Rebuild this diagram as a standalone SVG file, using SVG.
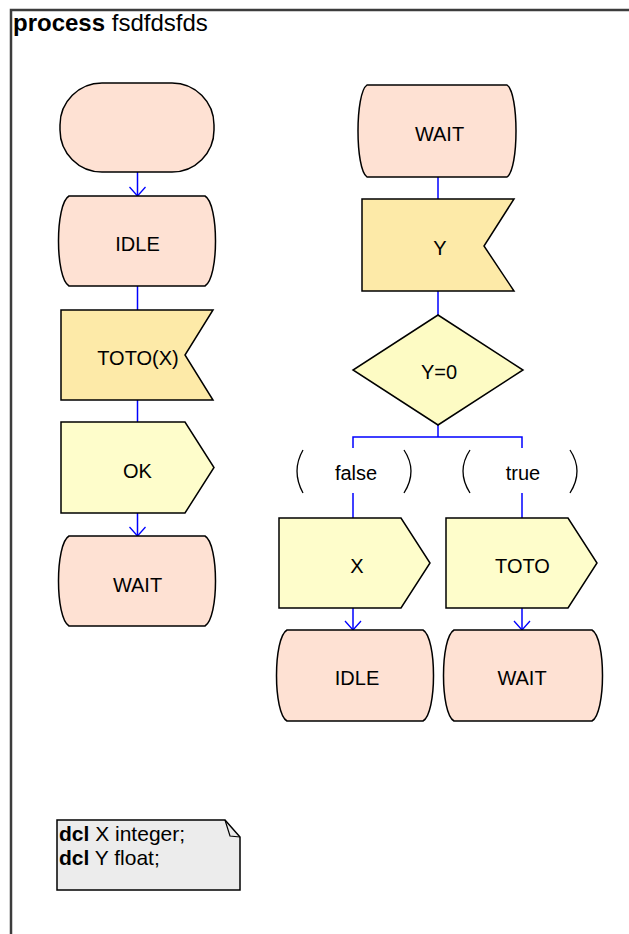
<svg xmlns="http://www.w3.org/2000/svg" width="629" height="934" viewBox="0 0 629 934">
<style>
text{font-family:"Liberation Sans",Arial,sans-serif;font-size:20px;fill:#000}
.lbl{text-anchor:middle}
.state{fill:#fee1d3;stroke:#000;stroke-width:1.5}
.input{fill:#fdeaa8;stroke:#000;stroke-width:1.5}
.output{fill:#fefdcb;stroke:#000;stroke-width:1.5}
.dec{fill:#fdfbc4;stroke:#000;stroke-width:1.5}
.note{fill:#ececec;stroke:#000;stroke-width:1.5}
.c{stroke:#0000ff;stroke-width:1.5;fill:none}
.par{stroke:#000;stroke-width:1.3;fill:none}
</style>
<defs>
<marker id="arr" viewBox="-12 -10 14 20" refX="0" refY="0" markerWidth="14" markerHeight="20" markerUnits="userSpaceOnUse" orient="auto">
<polyline points="-9,-8 0,0 -9,8" fill="none" stroke="#0000ff" stroke-width="1.3"/>
</marker>
</defs>
<rect width="629" height="934" fill="#fff"/>
<path d="M11,934 V10 H629" fill="none" stroke="#3c3c3c" stroke-width="2.5"/>
<text x="13" y="31" style="font-size:24px"><tspan font-weight="bold">process</tspan> fsdfdsfds</text>

<g id="connectors">
<line class="c" x1="137.5" y1="172" x2="137.5" y2="196" marker-end="url(#arr)"/>
<line class="c" x1="137.5" y1="286" x2="137.5" y2="310"/>
<line class="c" x1="137.5" y1="400" x2="137.5" y2="422"/>
<line class="c" x1="137.5" y1="513" x2="137.5" y2="536" marker-end="url(#arr)"/>
<line class="c" x1="438" y1="177" x2="438" y2="199"/>
<line class="c" x1="438" y1="291" x2="438" y2="315"/>
<line class="c" x1="438" y1="425" x2="438" y2="437"/>
<polyline class="c" points="353,448 353,437 522,437 522,448"/>
<line class="c" x1="353" y1="493" x2="353" y2="518"/>
<line class="c" x1="522" y1="493" x2="522" y2="518"/>
<line class="c" x1="353" y1="608" x2="353" y2="630" marker-end="url(#arr)"/>
<line class="c" x1="522" y1="608" x2="522" y2="630" marker-end="url(#arr)"/>
</g>

<g id="start"><rect class="state" x="60" y="83" width="154" height="89" rx="42" ry="42"/></g>

<g id="idle1"><path class="state" d="M69,196 H205 C219,204 219,278 205,286 H69 C55,278 55,204 69,196 Z"/><text class="lbl" x="137.5" y="251">IDLE</text></g>

<g id="input1"><polygon class="input" points="61,310 213,310 185,355 213,400 61,400"/><text class="lbl" x="138" y="365">TOTO(X)</text></g>

<g id="output1"><polygon class="output" points="61,422 185,422 214,467.5 185,513 61,513"/><text class="lbl" x="137.5" y="478">OK</text></g>

<g id="wait1"><path class="state" d="M69,536 H205 C219,544 219,618 205,626 H69 C55,618 55,544 69,536 Z"/><text class="lbl" x="137.5" y="592">WAIT</text></g>

<g id="wait2"><path class="state" d="M367,85 H507 C519,93 519,169 507,177 H367 C355,169 355,93 367,85 Z"/><text class="lbl" x="439.5" y="141">WAIT</text></g>

<g id="input2"><polygon class="input" points="362,199 514,199 484,246 514,291 362,291"/><text class="lbl" x="440" y="255">Y</text></g>

<g id="decision"><polygon class="dec" points="438,315 523,370 438,425 353,370"/><text class="lbl" x="439" y="379">Y=0</text></g>

<g id="answer-false"><path class="par" d="M303,450 Q291,471 303,493"/><path class="par" d="M404,450 Q418,471 404,493"/><text class="lbl" x="356" y="480">false</text></g>

<g id="answer-true"><path class="par" d="M470,450 Q456,471 470,493"/><path class="par" d="M570,450 Q584,471 570,493"/><text class="lbl" x="523" y="480">true</text></g>

<g id="output2"><polygon class="output" points="279,518 401,518 430,563 401,608 279,608"/><text class="lbl" x="357" y="573">X</text></g>

<g id="output3"><polygon class="output" points="446,518 568,518 597,563 568,608 446,608"/><text class="lbl" x="522.5" y="573">TOTO</text></g>

<g id="idle2"><path class="state" d="M287,630 H423 C437,638 437,713 423,721 H287 C273,713 273,638 287,630 Z"/><text class="lbl" x="357" y="685">IDLE</text></g>

<g id="wait3"><path class="state" d="M454,630 H592 C606,638 606,713 592,721 H454 C440,713 440,638 454,630 Z"/><text class="lbl" x="522" y="685">WAIT</text></g>

<g id="dcl"><path class="note" d="M57,820 H225 L240,837 V890 H57 Z"/><path d="M225,820 L230,836 L240,837" fill="none" stroke="#000" stroke-width="1.2"/>
<text x="59" y="841" style="font-size:21px"><tspan font-weight="bold">dcl</tspan> X integer;</text>
<text x="59" y="865" style="font-size:21px"><tspan font-weight="bold">dcl</tspan> Y float;</text></g>
</svg>
